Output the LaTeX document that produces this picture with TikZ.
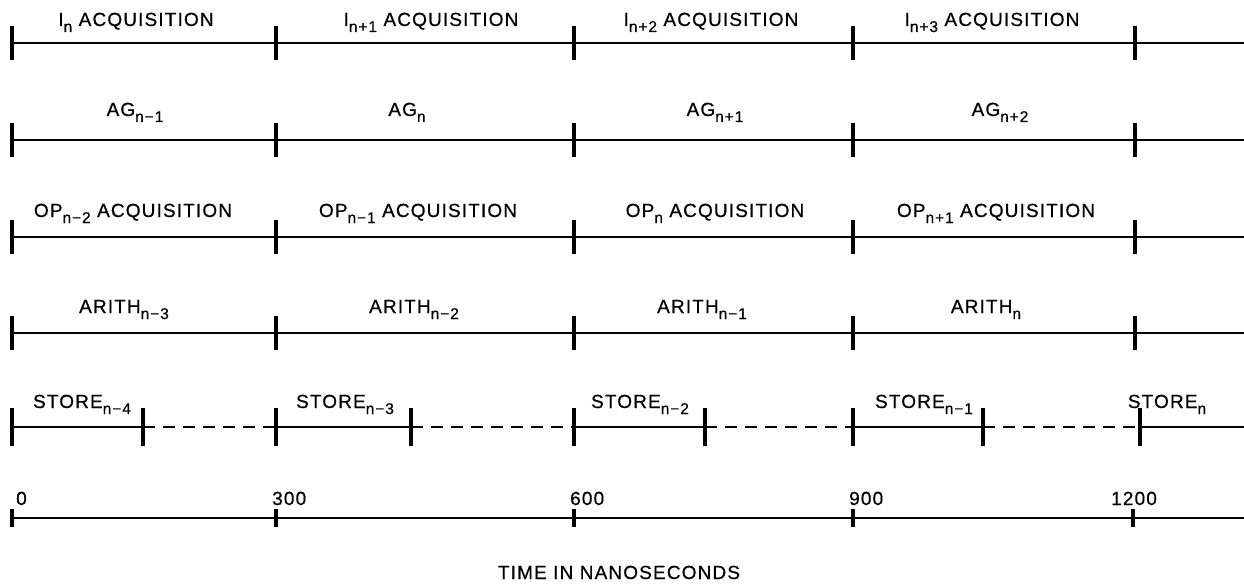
\documentclass[tikz,border=0pt]{standalone}
\usepackage{fontspec}
\setmainfont{Liberation Sans}[LetterSpace=6,FakeBold=0.6]
\newcommand\sbs[1]{\raisebox{-6pt}{\fontsize{15.5}{15.5}\selectfont #1}}
\tikzset{
  ln/.style={line width=2.6pt},
  tk/.style={line width=3.2pt},
  dl/.style={line width=2.6pt, dash pattern=on 12pt off 8pt},
  lbl/.style={anchor=base, inner sep=0pt, font=\fontsize{19}{20}\selectfont},
}
\begin{document}
\begin{tikzpicture}[x=1pt,y=-1pt]
\useasboundingbox (0,0) rectangle (1244,588);
% rows 1-4
\foreach \r/\y in {1/43,2/140,3/237,4/333} {
  \foreach \k/\x in {0/12,1/276,2/574,3/853,4/1135} {
    \coordinate (t\r-\k) at (\x,\y);
    \draw[tk] ([yshift=17pt]t\r-\k) -- ([yshift=-17pt]t\r-\k);
  }
  \coordinate (t\r-e) at (1244,\y);
  \draw[ln] (t\r-0) -- (t\r-e);
}
% row 5 (store)
\foreach \k/\x in {0/12,1/276,2/574,3/853,4/1140} {
  \coordinate (s\k) at (\x,427);
  \draw[tk] ([yshift=19pt]s\k) -- ([yshift=-19pt]s\k);
}
\foreach \k/\x in {0/143,1/411,2/705,3/983} {
  \coordinate (e\k) at (\x,427);
  \draw[tk] ([yshift=19pt]e\k) -- ([yshift=-19pt]e\k);
}
\coordinate (s-end) at (1244,427);
\foreach \k/\n in {0/1,1/2,2/3,3/4} {
  \draw[ln] (s\k) -- (e\k);
  \draw[dl] (e\k) -- (s\n);
}
\draw[ln] (s4) -- (s-end);
% row 6 (time axis)
\foreach \k/\x in {0/12,1/276,2/574,3/853,4/1133} {
  \coordinate (a\k) at (\x,518);
  \draw[tk] ([yshift=9pt]a\k) -- ([yshift=-9pt]a\k);
}
\coordinate (a-end) at (1244,518);
\draw[ln] (a0) -- (a-end);
% labels row 1
\node[lbl] (l11) at (136,26) {I\sbs{n} ACQUISITION};
\node[lbl] (l12) at (431,26) {I\sbs{n+1} ACQUISITION};
\node[lbl] (l13) at (711,26) {I\sbs{n+2} ACQUISITION};
\node[lbl] (l14) at (992,26) {I\sbs{n+3} ACQUISITION};
% row 2
\node[lbl] (l21) at (135,116) {AG\sbs{n−1}};
\node[lbl] (l22) at (407,116) {AG\sbs{n}};
\node[lbl] (l23) at (715,116) {AG\sbs{n+1}};
\node[lbl] (l24) at (1000,116) {AG\sbs{n+2}};
% row 3
\node[lbl] (l31) at (133,217) {OP\sbs{n−2} ACQUISITION};
\node[lbl] (l32) at (418,217) {OP\sbs{n−1} ACQUISITION};
\node[lbl] (l33) at (715,217) {OP\sbs{n} ACQUISITION};
\node[lbl] (l34) at (996,217) {OP\sbs{n+1} ACQUISITION};
% row 4
\node[lbl] (l41) at (124,313) {ARITH\sbs{n−3}};
\node[lbl] (l42) at (414,313) {ARITH\sbs{n−2}};
\node[lbl] (l43) at (702,313) {ARITH\sbs{n−1}};
\node[lbl] (l44) at (986,313) {ARITH\sbs{n}};
% row 5
\node[lbl] (l51) at (82,408) {STORE\sbs{n−4}};
\node[lbl] (l52) at (345,408) {STORE\sbs{n−3}};
\node[lbl] (l53) at (640,408) {STORE\sbs{n−2}};
\node[lbl] (l54) at (924,408) {STORE\sbs{n−1}};
\node[lbl] (l55) at (1167,408) {STORE\sbs{n}};
% time labels
\node[lbl, anchor=base west] (n0) at (16,505) {0};
\node[lbl, anchor=base west] (n1) at (272,505) {300};
\node[lbl, anchor=base west] (n2) at (570,505) {600};
\node[lbl, anchor=base west] (n3) at (849,505) {900};
\node[lbl] (n4) at (1134,505) {1200};
\node[lbl] (title) at (619,579) {TIME IN NANOSECONDS};
\end{tikzpicture}
\end{document}
